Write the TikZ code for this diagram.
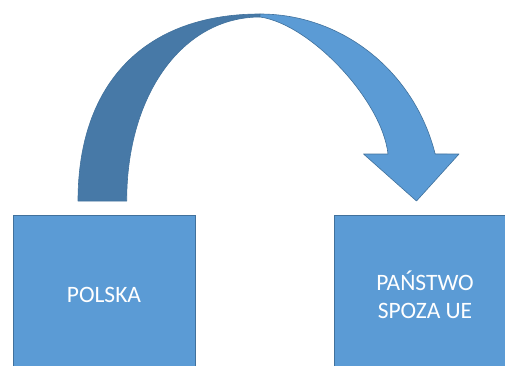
\documentclass[tikz,border=0pt]{standalone}
\usepackage{fontspec}
\setmainfont{Carlito}
\definecolor{boxblue}{HTML}{5B9BD5}
\definecolor{edgeblue}{HTML}{41719C}
\definecolor{backblue}{HTML}{4779A7}
\begin{document}
\begin{tikzpicture}[x=1pt,y=1pt,
  country/.style={fill=boxblue,draw=edgeblue,line width=0.6pt,minimum width=182pt,minimum height=170pt,
    inner sep=0pt},
  label/.style={text=white,font=\fontsize{23.5}{28}\selectfont,align=center},
  band/.style={draw=edgeblue,line width=0.6pt,line join=round}]
\useasboundingbox (0,0) rectangle (505,365);
\clip (0,0) rectangle (505,365);
% countries
\node[country,anchor=north west] (pl) at (13,150) {};
\node[country,anchor=north west] (ext) at (334,150) {};
\node[label] (plt) at (104,70) {POLSKA};
\node[label] (extt) at (425,70) {PAŃSTWO\\SPOZA UE};
% curved arrow: back part rising from the left
\fill[backblue,band] (78,164) .. controls (78,282) and (145,351) .. (260,351)
  -- (260,348) .. controls (183,348) and (126.7,271) .. (126.7,164) -- cycle;
% front part descending to the right with the head
\fill[boxblue,band] (260,351) arc[start angle=90,end angle=14.56,x radius=181pt,y radius=187pt]
  -- (459,211) -- (416.5,164) -- (363.5,211) -- (388,211)
  .. controls (382,265) and (310,341) .. (260,348) -- cycle;
\end{tikzpicture}
\end{document}
